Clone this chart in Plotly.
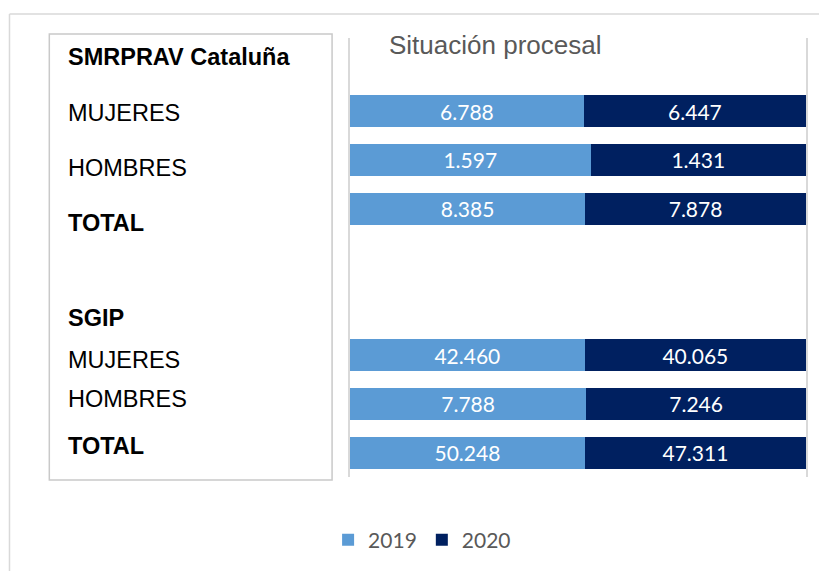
import plotly.graph_objects as go

# ---- data ----
groups = ["SMRPRAV Cataluña", "SGIP"]
rows = ["MUJERES", "HOMBRES", "TOTAL"]
values_2019 = [6788, 1597, 8385, 42460, 7788, 50248]
values_2020 = [6447, 1431, 7878, 40065, 7246, 47311]
series_names = ["2019", "2020"]
title_text = "Situación procesal"

# ---- helpers ----
W, H = 819, 571
PL, PR, PT, PB = 350, 808, 38, 477  # plot area in pixels


def xp(px):
    return (px - PL) / (PR - PL)


def yp(py):
    return (PB - py) / (PB - PT)


def fmt(v):
    return f"{v:,}".replace(",", ".")


categories = [f"{g} | {r}" for g in groups for r in rows]
cat_order = ["_top"] + categories[:3] + ["_gap1", "_gap2"] + categories[3:]

colors = ["#5B9BD5", "#002060"]

fig = go.Figure()
for name, vals, col in zip(series_names, [values_2019, values_2020], colors):
    fig.add_trace(go.Bar(
        y=categories, x=vals, name=name, orientation="h",
        marker=dict(color=col, line=dict(width=0)),
        text=[fmt(v) for v in vals], textposition="inside",
        insidetextanchor="middle", textangle=0, constraintext="none",
        textfont=dict(family="Lato", size=21, color="white"),
        hoverinfo="name+text",
    ))

fig.update_layout(
    width=W, height=H,
    barmode="stack", barnorm="percent", bargap=0.344,
    paper_bgcolor="white", plot_bgcolor="white",
    margin=dict(l=PL, r=W - PR, t=PT, b=H - PB, pad=0),
    xaxis=dict(range=[0, 100], showgrid=False, zeroline=False, showticklabels=False,
               fixedrange=True),
    yaxis=dict(categoryorder="array", categoryarray=cat_order, type="category",
               range=[len(cat_order) - 0.5, -0.5], showgrid=False, zeroline=False,
               showticklabels=False, fixedrange=True,
               showline=True, mirror=True, linecolor="#d9d9d9", linewidth=1.5),
    showlegend=True,
    legend=dict(orientation="h", x=xp(328), xanchor="left", y=yp(540), yanchor="middle",
                font=dict(family="Lato", size=21, color="#595959"),
                itemwidth=30, bgcolor="rgba(0,0,0,0)", traceorder="normal"),
)

# outer chart frame (top and left visible)
fig.add_shape(type="line", xref="paper", yref="paper", x0=xp(8), x1=xp(W + 5), y0=yp(14), y1=yp(14),
              line=dict(color="#d9d9d9", width=1.5))
fig.add_shape(type="line", xref="paper", yref="paper", x0=xp(8), x1=xp(8), y0=yp(14), y1=yp(H + 5),
              line=dict(color="#d9d9d9", width=1.5))
# left label box
fig.add_shape(type="rect", xref="paper", yref="paper", x0=xp(48), x1=xp(332), y0=yp(34), y1=yp(480),
              line=dict(color="#c9c9c9", width=1.5), fillcolor="rgba(0,0,0,0)")

label_font = "Arial, Liberation Sans, sans-serif"
label_rows = [("SMRPRAV Cataluña", 57, True), ("MUJERES", 113, False), ("HOMBRES", 168, False),
              ("TOTAL", 223.5, True), ("SGIP", 318, True), ("MUJERES", 360, False),
              ("HOMBRES", 399, False), ("TOTAL", 446, True)]
for txt, ypx, bold in label_rows:
    fig.add_annotation(xref="paper", yref="paper", x=xp(65), y=yp(ypx), xanchor="left",
                       yanchor="middle", showarrow=False,
                       text=f"<b>{txt}</b>" if bold else txt,
                       font=dict(family=label_font, size=23.5, color="black"))

fig.add_annotation(xref="paper", yref="paper", x=xp(387), y=yp(45), xanchor="left", yanchor="middle",
                   showarrow=False, text=title_text,
                   font=dict(family=label_font, size=26, color="#595959"))

fig.write_html("out.html", config={"displayModeBar": False},
               post_script="document.body.style.margin='0px';document.body.style.overflow='hidden';")
